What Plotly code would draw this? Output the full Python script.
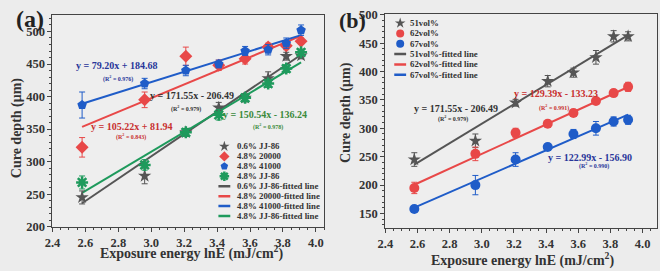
import numpy as np
import plotly.graph_objects as go

# ---------------- data ----------------
x_a = [2.58, 2.96, 3.21, 3.41, 3.57, 3.71, 3.82, 3.91]
a_names = ["0.6% JJ-86", "4.8% 20000", "4.8% 41000", "4.8% JJ-86"]
a_vals = {
    "0.6% JJ-86": [245, 278, 345, 383, 398, 428, 462, 463],
    "4.8% 20000": [322, 395, 462, 448, 458, 476, 478, 485],
    "4.8% 41000": [387, 420, 440, 450, 470, 472, 482, 502],
    "4.8% JJ-86": [268, 295, 345, 372, 398, 420, 443, 468],
}
a_err = {
    "0.6% JJ-86": [10, 12, 6, 8, 6, 10, 6, 5],
    "4.8% 20000": [15, 12, 14, 8, 8, 6, 6, 5],
    "4.8% 41000": [20, 8, 8, 6, 7, 8, 8, 8],
    "4.8% JJ-86": [10, 8, 6, 8, 6, 6, 6, 5],
}
a_slope = [171.55, 105.22, 79.20, 150.54]
a_inter = [-206.49, 81.94, 184.68, -136.24]
a_r2 = ["0.979", "0.843", "0.976", "0.978"]

x_b = [2.58, 2.96, 3.21, 3.41, 3.57, 3.71, 3.82, 3.91]
b_names = ["51vol%", "62vol%", "67vol%"]
b_vals = {
    "51vol%": [245, 278, 345, 383, 398, 425, 462, 462],
    "62vol%": [195, 255, 292, 308, 327, 348, 362, 373],
    "67vol%": [158, 200, 245, 267, 290, 300, 312, 315],
}
b_err = {
    "51vol%": [12, 12, 6, 10, 8, 12, 10, 8],
    "62vol%": [10, 12, 8, 6, 6, 6, 6, 8],
    "67vol%": [5, 17, 12, 6, 8, 12, 8, 8],
}
b_slope = [171.55, 129.39, 122.99]
b_inter = [-206.49, -133.23, -156.90]
b_r2 = ["0.979", "0.991", "0.990"]

x_title = "Exposure energy lnE (mJ/cm<sup>2</sup>)"
y_title = "Cure depth (μm)"

# ---------------- styles / layout geometry ----------------
FONT = "Liberation Serif"
W, H = 660, 271
a_colors = ["#555555", "#e84848", "#1f5cc8", "#1e9a5c"]
a_symbols = ["star", "diamond", "pentagon", "asterisk-open"]
b_colors = ["#555555", "#e84848", "#1f5cc8"]
b_symbols = ["star", "circle", "circle"]

# panel boxes in pixels: (left, right, top, bottom) and axis ranges
A_BOX, A_XR, A_YR = (45, 320, 10, 232), (2.4, 4.05), (200, 526)
B_BOX, B_XR, B_YR = (382, 657, 9, 233), (2.4, 4.09), (125, 502)


def px2data(box, xr, yr, px, py):
    l, r, t, b = box
    return (xr[0] + (px - l) / (r - l) * (xr[1] - xr[0]),
            yr[0] + (b - py) / (b - t) * (yr[1] - yr[0]))


def marker_style(c, s, size):
    mk = dict(color=c, size=size, symbol=s)
    if s == "asterisk-open":
        mk["line"] = dict(color=c, width=2.5)
    return mk


fig = go.Figure()
ann = []


def add_panel(xs, names, vals, errs, slopes, inters, colors, symbols, xa, ya):
    for n, c, m, b in zip(names, colors, slopes, inters):
        xf = np.array([xs[0], xs[-1]])
        fig.add_trace(go.Scatter(x=xf, y=m * xf + b, mode="lines", showlegend=False,
                                 line=dict(color=c, width=2), xaxis=xa, yaxis=ya))
    for n, c, s in zip(names, colors, symbols):
        fig.add_trace(go.Scatter(
            x=xs, y=vals[n], mode="markers", showlegend=False,
            marker=marker_style(c, s, 10),
            error_y=dict(type="data", array=errs[n], color=c, thickness=1, width=3),
            xaxis=xa, yaxis=ya))


add_panel(x_a, a_names, a_vals, a_err, a_slope, a_inter, a_colors, a_symbols, "x", "y")
add_panel(x_b, b_names, b_vals, b_err, b_slope, b_inter, b_colors, b_symbols, "x2", "y2")


# ------------- compact legends inside each panel -------------
def add_legend(names, colors, symbols, sym_x, text_x, y0, step, seg, box, xr, yr, xa, ya):
    n = len(names)
    for i, (c, s) in enumerate(zip(colors, symbols)):
        dx, dy = px2data(box, xr, yr, sym_x, y0 + i * step)
        fig.add_trace(go.Scatter(x=[dx], y=[dy], mode="markers", showlegend=False,
                                 hoverinfo="skip", marker=marker_style(c, s, 8),
                                 xaxis=xa, yaxis=ya))
    for i, c in enumerate(colors):
        yy = y0 + (n + i) * step
        x1, y1 = px2data(box, xr, yr, seg[0], yy)
        x2, _ = px2data(box, xr, yr, seg[1], yy)
        fig.add_trace(go.Scatter(x=[x1, x2], y=[y1, y1], mode="lines", showlegend=False,
                                 hoverinfo="skip", line=dict(color=c, width=2.5),
                                 xaxis=xa, yaxis=ya))
    labels = list(names) + [nm + "-fitted line" for nm in names]
    for i, t in enumerate(labels):
        ann.append(dict(x=text_x / W, y=1 - (y0 + i * step) / H, xref="paper", yref="paper",
                        text="<b>" + t + "</b>", showarrow=False, xanchor="left",
                        yanchor="middle", font=dict(family=FONT, size=8.8, color="#333")))


add_legend(a_names, a_colors, a_symbols, 219, 230, 148, 10.4, (213, 225), A_BOX, A_XR, A_YR, "x", "y")
add_legend(b_names, b_colors, b_symbols, 397, 405, 19, 10.8, (391, 403), B_BOX, B_XR, B_YR, "x2", "y2")


def fmt_eq(m, b):
    sign = "+" if b >= 0 else "-"
    return f"y = {m:.2f}x {sign} {abs(b):.2f}"


a_eq_pos = [(3.25, 401), (2.88, 354), (2.79, 448), (3.69, 373)]
a_r2_pos = [(3.21, 382), (2.88, 338), (2.80, 428), (3.71, 354)]
a_txt_col = ["#333333", "#c8302e", "#28369a", "#3b8a3b"]
for i in range(4):
    ann.append(dict(x=a_eq_pos[i][0], y=a_eq_pos[i][1], xref="x", yref="y",
                    text="<b>" + fmt_eq(a_slope[i], a_inter[i]) + "</b>", showarrow=False,
                    font=dict(family=FONT, size=10, color=a_txt_col[i])))
    ann.append(dict(x=a_r2_pos[i][0], y=a_r2_pos[i][1], xref="x", yref="y",
                    text="<b>(R<sup>2</sup> = " + a_r2[i] + ")</b>", showarrow=False,
                    font=dict(family=FONT, size=6, color=a_txt_col[i])))
b_eq_pos = [(2.84, 335), (3.46, 362), (3.67, 248)]
b_r2_pos = [(2.82, 318), (3.45, 337), (3.70, 234)]
b_txt_col = ["#333333", "#c8302e", "#28369a"]
for i in range(3):
    ann.append(dict(x=b_eq_pos[i][0], y=b_eq_pos[i][1], xref="x2", yref="y2",
                    text="<b>" + fmt_eq(b_slope[i], b_inter[i]) + "</b>", showarrow=False,
                    font=dict(family=FONT, size=10, color=b_txt_col[i])))
    ann.append(dict(x=b_r2_pos[i][0], y=b_r2_pos[i][1], xref="x2", yref="y2",
                    text="<b>(R<sup>2</sup> = " + b_r2[i] + ")</b>", showarrow=False,
                    font=dict(family=FONT, size=6, color=b_txt_col[i])))

title_font = dict(family=FONT, size=14, color="#333")
# axis titles (top-anchored, just below the tick labels)
for (cx, cy) in [(186, 247), (521, 254)]:
    ann.append(dict(x=cx / W, y=1 - cy / H, xref="paper", yref="paper", text="<b>" + x_title + "</b>",
                    xanchor="center", yanchor="top", showarrow=False, font=title_font))
for (cx, cy) in [(9, 128), (342, 112)]:
    ann.append(dict(x=cx / W, y=1 - cy / H, xref="paper", yref="paper", text="<b>" + y_title + "</b>",
                    xanchor="center", yanchor="middle", textangle=-90, showarrow=False,
                    font=title_font))
ann.append(dict(x=22 / W, y=1 - 15 / H, xref="paper", yref="paper", text="<b>(a)</b>",
                xanchor="center", yanchor="middle", showarrow=False,
                font=dict(family=FONT, size=24, color="#222")))
ann.append(dict(x=349 / W, y=1 - 16 / H, xref="paper", yref="paper", text="<b>(b)</b>",
                xanchor="center", yanchor="middle", showarrow=False,
                font=dict(family=FONT, size=22, color="#222")))

axis_common = dict(showgrid=False, zeroline=False, showline=True, linecolor="#444",
                   linewidth=1, mirror=True, ticks="outside", ticklen=4, tickcolor="#444",
                   tickfont=dict(family=FONT, size=12.5, color="#333", weight="bold"),
                   minor=dict(ticks="outside", ticklen=2, tickcolor="#444"))

fig.update_layout(
    width=W, height=H, margin=dict(l=0, r=0, t=0, b=0),
    paper_bgcolor="#ececec", plot_bgcolor="#eeeeee",
    showlegend=False,
    xaxis=dict(domain=[A_BOX[0] / W, A_BOX[1] / W], range=list(A_XR), dtick=0.2, tickformat=".1f",
               anchor="y", **axis_common),
    yaxis=dict(domain=[1 - A_BOX[3] / H, 1 - A_BOX[2] / H], range=list(A_YR), dtick=50,
               anchor="x", **axis_common),
    xaxis2=dict(domain=[B_BOX[0] / W, B_BOX[1] / W], range=list(B_XR), dtick=0.2, tickformat=".1f",
                anchor="y2", **axis_common),
    yaxis2=dict(domain=[1 - B_BOX[3] / H, 1 - B_BOX[2] / H], range=list(B_YR), dtick=50,
                anchor="x2", **axis_common),
    annotations=ann,
)

fig.write_html("out.html")
